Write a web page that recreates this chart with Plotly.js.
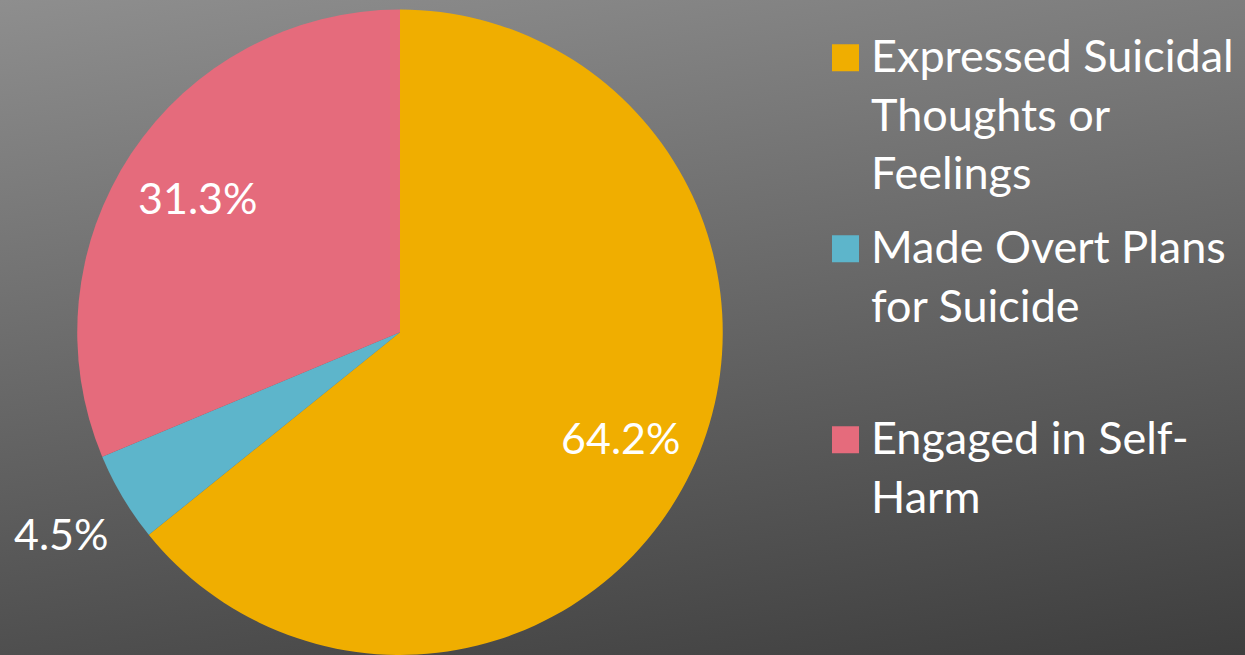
<!DOCTYPE html>
<html>
<head>
<meta charset="utf-8">
<script src="https://cdn.plot.ly/plotly-3.0.1.min.js"></script>
<style>
  html, body { margin: 0; padding: 0; }
  body { width: 1245px; height: 655px; background: linear-gradient(172deg, #8e8e8e 0%, #6a6a6a 45%, #3e3e3e 100%); overflow: hidden; }
  #chart { width: 1245px; height: 655px; }
</style>
</head>
<body>
<div id="chart"></div>
<script>
const categories = ["Expressed Suicidal<br>Thoughts or<br>Feelings", "Made Overt Plans<br>for Suicide<br>\u00a0", "Engaged in Self-<br>Harm<br>\u00a0"];
const values = [64.2, 4.5, 31.3];
const colors = ["#F0AE00", "#5DB5CB", "#E56B7C"];

// pie geometry (pixels): centre and radius
const W = 1245, H = 655, CX = 400, CY = 332.5, R = 323;
const pieDomainX = [(CX - R) / W, (CX + R) / W];
const pieDomainY = [Math.max(0, (H - CY - R) / H), (H - CY + R) / H];

const pie = {
  type: "pie",
  labels: categories,
  values: values,
  sort: false,
  direction: "clockwise",
  rotation: 0,
  marker: { colors: colors, line: { width: 0 } },
  textinfo: "none",
  domain: { x: pieDomainX, y: pieDomainY },
  hoverinfo: "label+percent"
};

// data labels: placed along each slice's mid-angle (in units of the pie radius)
const total = values.reduce((a, b) => a + b, 0);
const annotations = [];
let cum = 0;
values.forEach(function (v) {
  const mid = (cum + v / 2) / total * 2 * Math.PI;
  const share = v / total;
  const r = share < 0.1 ? 1.22 : 0.755;
  annotations.push({
    xref: "x", yref: "y",
    x: r * Math.sin(mid), y: r * Math.cos(mid),
    text: (share * 100).toFixed(1) + "%",
    showarrow: false,
    xanchor: "center", yanchor: "middle",
    font: { family: "Lato, sans-serif", size: 43, color: "#ffffff" }
  });
  cum += v;
});

// hidden axes spanning the left part of the figure, scaled so 1 unit = pie radius
const axXpx = [0, 800];
const layout = {
  width: W,
  height: H,
  margin: { l: 0, r: 0, t: 0, b: 0 },
  paper_bgcolor: "rgba(0,0,0,0)",
  plot_bgcolor: "rgba(0,0,0,0)",
  font: { family: "Lato, sans-serif", color: "#ffffff" },
  xaxis: { domain: [axXpx[0] / W, axXpx[1] / W], range: [(axXpx[0] - CX) / R, (axXpx[1] - CX) / R], visible: false, fixedrange: true },
  yaxis: { domain: [0, 1], range: [-(H - CY) / (R - 0.5), CY / (R - 0.5)], visible: false, fixedrange: true },
  annotations: annotations,
  showlegend: true,
  legend: {
    x: 831 / W, y: 1 - 19 / H, xanchor: "left", yanchor: "top",
    font: { family: "Lato, sans-serif", size: 45, color: "#ffffff" },
    bgcolor: "rgba(0,0,0,0)",
    valign: "top",
    traceorder: "normal"
  }
};

Plotly.newPlot("chart", [pie], layout, { staticPlot: true }).then(function () {
  document.querySelectorAll(".legendpoints path").forEach(function (p) {
    p.setAttribute("d", "M8,16.5H-19V-10.5H8Z");
  });
  // extra spacing between legend entries
  document.querySelectorAll(".legend .traces").forEach(function (g, i) {
    const t = g.getAttribute("transform") || "";
    const m = t.match(/translate\(\s*([-\d.]+)[ ,]+([-\d.]+)\s*\)/);
    if (m) g.setAttribute("transform", "translate(" + m[1] + "," + (parseFloat(m[2]) + i * 12.5) + ")");
  });
  document.querySelectorAll(".legend .scrollbox").forEach(function (s) { s.removeAttribute("clip-path"); });
});
</script>
</body>
</html>
